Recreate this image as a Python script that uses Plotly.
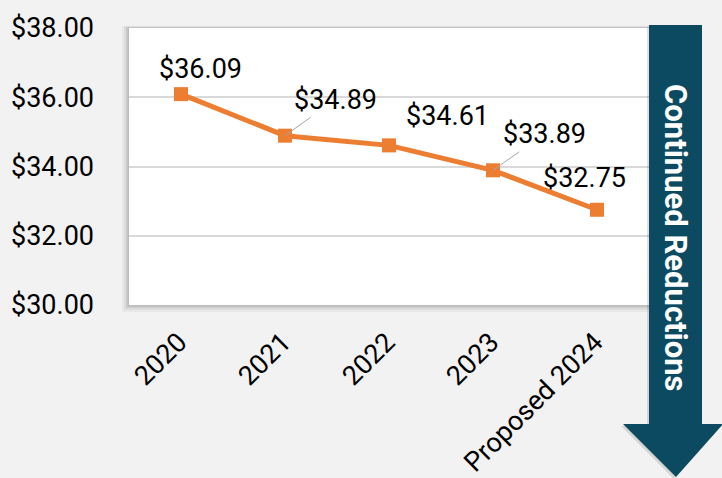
import plotly.graph_objects as go

categories = ["2020", "2021", "2022", "2023", "Proposed 2024"]
values = [36.09, 34.89, 34.61, 33.89, 32.75]
labels = ["$36.09", "$34.89", "$34.61", "$33.89", "$32.75"]
arrow_text = "Continued Reductions"

W, H = 722, 478
L, R, T, B = 129, 73, 28, 173
PW, PH = W - L - R, H - T - B

def px(x):
    return (x - L) / PW

def py(y):
    return (H - B - y) / PH

ORANGE = "#ED7D31"
TEAL = "#0B4A61"
FONT = "Roboto"
FS = 27

fig = go.Figure()
fig.add_trace(go.Scatter(
    x=categories, y=values, mode="lines+markers",
    line=dict(color=ORANGE, width=5),
    marker=dict(symbol="square", size=14, color=ORANGE),
    hoverinfo="skip", showlegend=False,
))

shapes = []
# plot-area shadow
for d, a in [(7, 0.04), (5, 0.05), (3, 0.07), (1.5, 0.08)]:
    shapes.append(dict(type="rect", xref="paper", yref="paper",
                       x0=px(L - d), x1=px(L + PW + 2), y0=py(H - B + d), y1=py(T - d / 3),
                       fillcolor=f"rgba(0,0,0,{a})", line_width=0, layer="below"))
shapes.append(dict(type="rect", xref="paper", yref="paper",
                   x0=0, x1=px(L + PW + 2), y0=0, y1=1,
                   fillcolor="white", line_width=0, layer="below"))

def arrow_path(dx=0, dy=0):
    pts = [(649, 25), (702, 25), (702, 424), (723, 424), (676, 477), (623, 424), (649, 424)]
    return "M " + " L ".join(f"{px(x + dx)},{py(y + dy)}" for x, y in pts) + " Z"

shapes.append(dict(type="path", xref="paper", yref="paper", path=arrow_path(-2, 2),
                   fillcolor="rgba(0,0,0,0.12)", line_width=0, layer="above"))
shapes.append(dict(type="path", xref="paper", yref="paper", path=arrow_path(),
                   fillcolor=TEAL, line_width=0, layer="above"))

annotations = []
# (xshift, yshift, leader)
offsets = [(19, 25, False), (50, -36, True), (58, 29, False), (51, -36, True), (-13, 32, False)]
for i, (v, t, (dx, dy, lead)) in enumerate(zip(values, labels, offsets)):
    if lead:
        annotations.append(dict(x=i, y=v, xref="x", yref="y", text=t, showarrow=True,
                                arrowhead=0, arrowwidth=1, arrowcolor="#A6A6A6",
                                ax=dx, ay=dy, standoff=0,
                                font=dict(family=FONT, size=FS, color="black")))
    else:
        annotations.append(dict(x=i, y=v, xref="x", yref="y", text=t, showarrow=False,
                                xshift=dx, yshift=dy,
                                font=dict(family=FONT, size=FS, color="black")))

annotations.append(dict(x=px(676), y=py(238), xref="paper", yref="paper",
                        xanchor="center", yanchor="middle",
                        text=f"<b>{arrow_text}</b>", showarrow=False, textangle=90,
                        font=dict(family=FONT, size=31, color="white")))

fig.update_layout(
    width=W, height=H,
    margin=dict(l=L, r=R, t=T, b=B, autoexpand=False),
    paper_bgcolor="#F2F2F2", plot_bgcolor="rgba(0,0,0,0)",
    shapes=shapes, annotations=annotations,
    font=dict(family=FONT, size=FS, color="black"),
    xaxis=dict(type="category", tickangle=-45, showgrid=False, zeroline=False,
               showline=False, ticks="", range=[-0.5, 4.5],
               ticklabelstandoff=15, ticklabelshift=-2,
               tickfont=dict(family=FONT, size=FS, color="black")),
    yaxis=dict(range=[30, 38], dtick=2, tickformat="$.2f", showgrid=True,
               gridcolor="#D9D9D9", gridwidth=1.5, zeroline=False, showline=False,
               ticks="", ticklabelstandoff=34,
               tickfont=dict(family=FONT, size=FS, color="black")),
)

fig.write_html("out.html", config={"displayModeBar": False},
               post_script="document.body.style.margin='0px';")
